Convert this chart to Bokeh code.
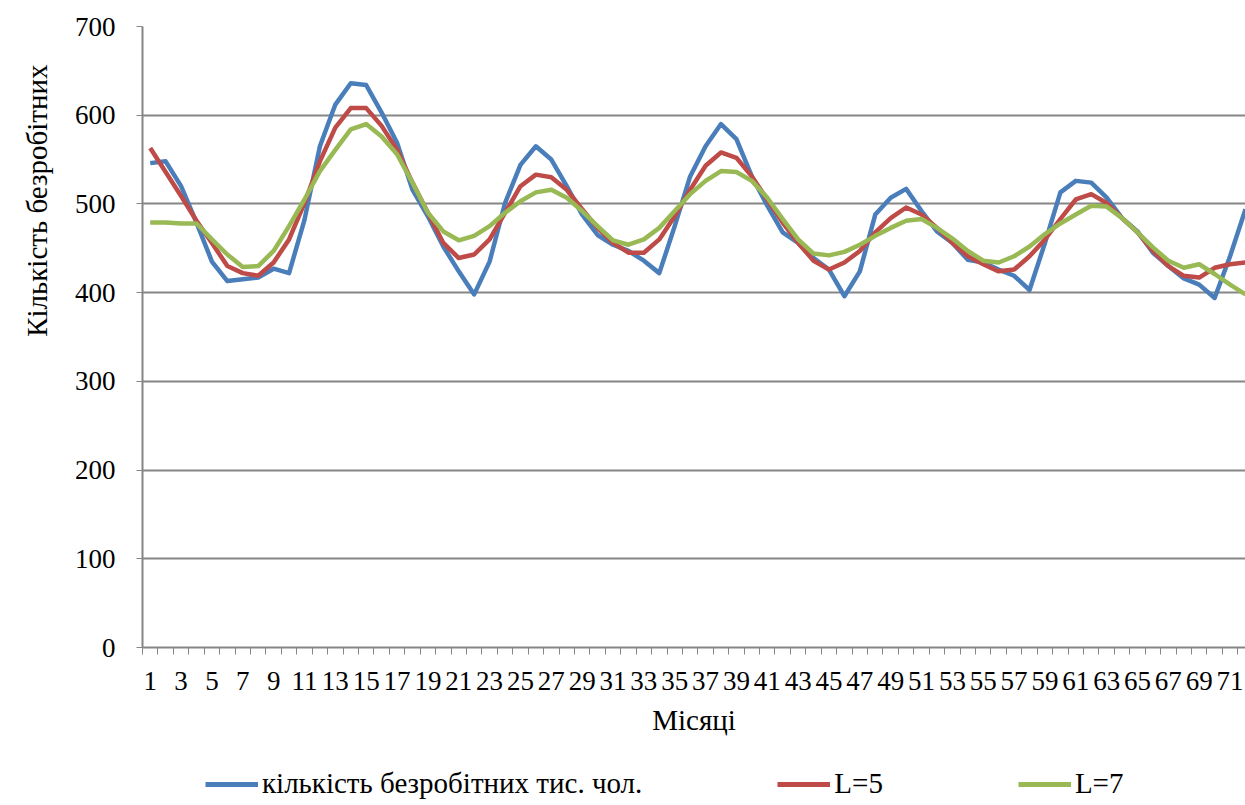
from bokeh.plotting import figure
from bokeh.models import Range1d, FixedTicker, Legend, LegendItem, Title
from bokeh.layouts import column
from bokeh.embed import file_html
from bokeh.resources import INLINE

months = list(range(1, 73))

unemployed = [546, 548, 520, 479, 435, 413, 415, 417, 427, 422,
              482, 565, 612, 636, 634, 603, 569, 516, 486, 452,
              424, 398, 435, 501, 544, 565, 550, 520, 488, 465,
              454, 447, 436, 422, 475, 531, 565, 590, 573, 531,
              498, 468, 456, 439, 426, 396, 424, 488, 507, 517,
              492, 469, 456, 437, 434, 426, 419, 403, 456, 513,
              526, 524, 507, 484, 469, 445, 430, 416, 409, 394,
              441, 494]

ma5 = [563, 536, 509, 481, 456, 430, 422, 419, 434, 460,
       501, 548, 586, 608, 608, 588, 561, 524, 490, 456,
       439, 443, 460, 490, 520, 533, 530, 516, 494, 473,
       456, 445, 445, 460, 486, 516, 543, 558, 552, 531,
       505, 479, 456, 436, 426, 434, 447, 468, 484, 496,
       488, 473, 456, 441, 432, 424, 426, 441, 460, 483,
       505, 511, 501, 484, 468, 447, 430, 419, 417, 428,
       432, 434]

ma7 = [479, 479, 478, 478, 460, 443, 429, 430, 447, 475,
       505, 537, 561, 584, 590, 576, 556, 524, 490, 469,
       459, 464, 475, 490, 503, 513, 516, 507, 492, 475,
       459, 454, 460, 473, 492, 511, 526, 537, 536, 526,
       507, 483, 460, 444, 442, 446, 454, 464, 473, 481,
       483, 473, 461, 447, 436, 434, 441, 452, 466, 478,
       488, 498, 497, 484, 468, 451, 436, 428, 432, 421,
       409, 398]

series = [unemployed, ma5, ma7]
series_names = ["кількість безробітних тис. чол.", "L=5", "L=7"]
series_colors = ["#4A7EBB", "#BE4B48", "#98B954"]

y_ticks = [0, 100, 200, 300, 400, 500, 600, 700]
x_label_ticks = list(range(1, 73, 2))

FONT = "Liberation Serif"
FS = "27px"
FS_TXT = "29px"
AXIS_COLOR = "#868686"
W = 1245

p = figure(width=W, height=738,
           x_range=Range1d(0.5, 72.0), y_range=Range1d(0, 700),
           output_backend="svg", toolbar_location=None,
           min_border_left=140, min_border_top=26, min_border_right=0,
           min_border_bottom=91)
p.outline_line_color = None
p.background_fill_color = "white"

for ys, c in zip(series, series_colors):
    p.line(months, ys, line_color=c, line_width=4.5, line_join="round")

# x axis
xa = p.xaxis[0]
xa.ticker = FixedTicker(ticks=x_label_ticks,
                        minor_ticks=[i + 0.5 for i in range(0, 73)])
xa.major_tick_line_color = None
xa.major_tick_out = 7
xa.major_tick_in = 0
xa.minor_tick_out = 7
xa.minor_tick_in = 0
xa.minor_tick_line_color = AXIS_COLOR
xa.minor_tick_line_width = 1
xa.axis_line_color = AXIS_COLOR
xa.axis_line_width = 2
xa.major_label_text_font = FONT
xa.major_label_text_font_size = FS
xa.major_label_text_color = "black"
xa.major_label_standoff = 17
xa.axis_label = "Місяці"
xa.axis_label_text_font = FONT
xa.axis_label_text_font_size = FS_TXT
xa.axis_label_text_font_style = "normal"
xa.axis_label_text_color = "black"
xa.axis_label_standoff = 11

# y axis
ya = p.yaxis[0]
ya.ticker = FixedTicker(ticks=y_ticks)
ya.minor_tick_line_color = None
ya.major_tick_line_color = AXIS_COLOR
ya.major_tick_out = 6
ya.major_tick_in = 0
ya.axis_line_color = AXIS_COLOR
ya.axis_line_width = 2
ya.major_label_text_font = FONT
ya.major_label_text_font_size = FS
ya.major_label_text_color = "black"
ya.major_label_standoff = 21

p.xgrid.grid_line_color = None
p.ygrid.grid_line_color = AXIS_COLOR
p.ygrid.grid_line_width = 2
p.ygrid.ticker = FixedTicker(ticks=y_ticks)

ytitle = Title(text="Кількість безробітних", align="right", offset=38,
               text_font=FONT, text_font_size=FS_TXT, text_font_style="normal",
               text_color="black", standoff=37)
p.add_layout(ytitle, "left")

# legend strip below the chart (its key lines sit outside the strip's ranges)
pl = figure(width=W, height=62, x_range=Range1d(0, 1), y_range=Range1d(0, 1),
            output_backend="svg", toolbar_location=None, min_border=0)
pl.axis.visible = False
pl.grid.grid_line_color = None
pl.outline_line_color = None
key_renderers = []
for ys, c in zip(series, series_colors):
    key_renderers.append(pl.line(months, ys, line_color=c, line_width=5))

legend = Legend(items=[LegendItem(label=n, renderers=[r]) for n, r in zip(series_names, key_renderers)],
                orientation="horizontal", location=(63, 0),
                label_text_font=FONT, label_text_font_size=FS_TXT,
                label_text_font_style="normal", label_text_color="black",
                glyph_width=53, glyph_height=20, label_standoff=4,
                spacing=135, border_line_color=None,
                background_fill_alpha=0, padding=0, margin=0)
pl.add_layout(legend, "center")

layout = column(p, pl, spacing=0)

with open("out.html", "w") as f:
    f.write(file_html(layout, INLINE))
